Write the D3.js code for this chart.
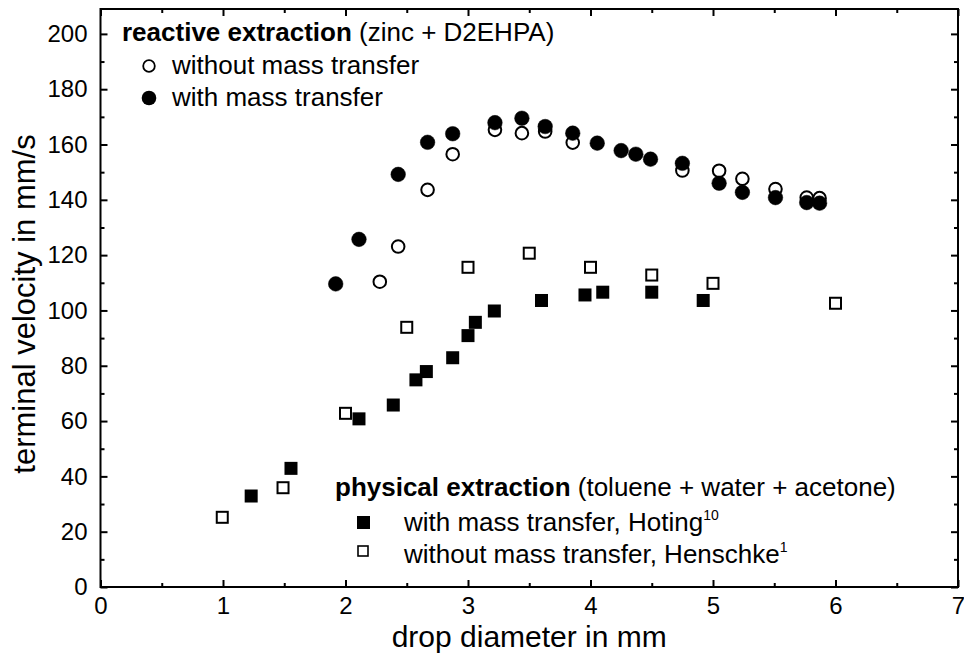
<!DOCTYPE html>
<html>
<head>
<meta charset="utf-8">
<script src="https://cdn.jsdelivr.net/npm/d3@7"></script>
<style>
  body { margin: 0; background: #fff; }
  svg { display: block; font-family: "Liberation Sans", Arial, sans-serif; }
</style>
</head>
<body>
<svg width="964" height="657"></svg>
<script>
// reactive extraction (zinc + D2EHPA)
var reactNoMT = [
  [2.28, 110.4], [2.43, 123.1], [2.67, 143.6], [2.875, 156.5], [3.22, 165.3],
  [3.44, 164.1], [3.63, 164.7], [3.855, 160.7], [4.75, 150.6], [5.05, 150.5],
  [5.24, 147.6], [5.51, 143.9], [5.765, 140.8], [5.87, 140.6]
];
var reactMT = [
  [1.92, 109.6], [2.11, 125.7], [2.43, 149.2], [2.67, 160.8], [2.875, 163.9],
  [3.22, 167.9], [3.44, 169.5], [3.63, 166.5], [3.855, 164.1], [4.055, 160.5],
  [4.25, 157.8], [4.37, 156.5], [4.49, 154.7], [4.75, 153.2], [5.05, 146.0],
  [5.24, 142.7], [5.51, 140.8], [5.765, 139.0], [5.87, 138.8]
];
// physical extraction (toluene + water + acetone)
var physMT = [
  [1.23, 32.9], [1.555, 42.9], [2.11, 60.8], [2.39, 65.8], [2.575, 74.9],
  [2.66, 77.9], [2.875, 82.9], [3.0, 90.9], [3.06, 95.7], [3.215, 99.8],
  [3.60, 103.6], [3.955, 105.6], [4.10, 106.6], [4.50, 106.6], [4.92, 103.6]
];
var physNoMT = [
  [0.994, 25.2], [1.49, 35.9], [2.0, 62.8], [2.5, 93.9], [3.0, 115.6],
  [3.5, 120.7], [4.0, 115.6], [4.5, 112.8], [5.0, 109.8], [6.0, 102.6]
];

var xMajor = [0, 1, 2, 3, 4, 5, 6, 7];
var yMajor = [0, 20, 40, 60, 80, 100, 120, 140, 160, 180, 200];

var svg = d3.select("svg");
var pLeft = 100.5, pRight = 958, pTop = 9, pBottom = 587;

var x = d3.scaleLinear().domain([0, 7]).range([pLeft, pRight]);
var y = d3.scaleLinear().domain([0, 209]).range([pBottom, pTop]);

// minor ticks
var xMinor = d3.range(0.5, 7, 1);
var yMinor = d3.range(10, 209, 20);

function styleAxis(g) {
  g.select(".domain").remove();
  g.selectAll(".tick line").attr("stroke", "#000").attr("stroke-width", 2);
  g.selectAll(".tick text").attr("fill", "#000").style("font-size", "24px")
    .style("font-family", "'Liberation Sans', Arial, sans-serif");
}

// bottom
svg.append("g").attr("transform", "translate(0," + pBottom + ")")
  .call(d3.axisBottom(x).tickValues(xMajor).tickSize(-7).tickPadding(10).tickFormat(d3.format("d")))
  .call(styleAxis);
svg.append("g").attr("transform", "translate(0," + pBottom + ")")
  .call(d3.axisBottom(x).tickValues(xMinor).tickSize(-4).tickFormat(""))
  .call(styleAxis);
// top
svg.append("g").attr("transform", "translate(0," + pTop + ")")
  .call(d3.axisTop(x).tickValues(xMajor).tickSize(-7).tickFormat(""))
  .call(styleAxis);
svg.append("g").attr("transform", "translate(0," + pTop + ")")
  .call(d3.axisTop(x).tickValues(xMinor).tickSize(-4).tickFormat(""))
  .call(styleAxis);
// left
svg.append("g").attr("transform", "translate(" + pLeft + ",0)")
  .call(d3.axisLeft(y).tickValues(yMajor).tickSize(-7).tickPadding(13).tickFormat(d3.format("d")))
  .call(styleAxis);
svg.append("g").attr("transform", "translate(" + pLeft + ",0)")
  .call(d3.axisLeft(y).tickValues(yMinor).tickSize(-4).tickFormat(""))
  .call(styleAxis);
// right
svg.append("g").attr("transform", "translate(" + pRight + ",0)")
  .call(d3.axisRight(y).tickValues(yMajor).tickSize(-7).tickFormat(""))
  .call(styleAxis);
svg.append("g").attr("transform", "translate(" + pRight + ",0)")
  .call(d3.axisRight(y).tickValues(yMinor).tickSize(-4).tickFormat(""))
  .call(styleAxis);

// frame
svg.append("rect")
  .attr("x", pLeft).attr("y", pTop)
  .attr("width", pRight - pLeft).attr("height", pBottom - pTop)
  .attr("fill", "none").attr("stroke", "#000").attr("stroke-width", 2);

// axis titles
svg.append("text")
  .attr("x", (pLeft + pRight) / 2).attr("y", 647)
  .attr("text-anchor", "middle").style("font-size", "30px")
  .text("drop diameter in mm");
svg.append("text")
  .attr("transform", "translate(35," + ((pTop + pBottom) / 2 + 6) + ") rotate(-90)")
  .attr("text-anchor", "middle").style("font-size", "31px")
  .text("terminal velocity in mm/s");

// markers
function circles(data, filled) {
  svg.append("g").selectAll("circle").data(data).enter().append("circle")
    .attr("cx", d => x(d[0])).attr("cy", d => y(d[1]))
    .attr("r", filled ? 7.3 : 6.3)
    .attr("fill", filled ? "#000" : "#fff")
    .attr("stroke", "#000").attr("stroke-width", filled ? 0.5 : 2);
}
function squares(data, filled) {
  var s = filled ? 13 : 11;
  svg.append("g").selectAll("rect").data(data).enter().append("rect")
    .attr("x", d => x(d[0]) - s / 2).attr("y", d => y(d[1]) - s / 2)
    .attr("width", s).attr("height", s)
    .attr("fill", filled ? "#000" : "#fff")
    .attr("stroke", "#000").attr("stroke-width", filled ? 0 : 2);
}
squares(physNoMT, false);
squares(physMT, true);
circles(reactNoMT, false);
circles(reactMT, true);

// legends
var fs = "26px";
var t1 = svg.append("text").attr("x", 122).attr("y", 41).style("font-size", fs);
t1.append("tspan").attr("font-weight", "bold").text("reactive extraction");
t1.append("tspan").text(" (zinc + D2EHPA)");
svg.append("circle").attr("cx", 149).attr("cy", 66).attr("r", 5.8)
  .attr("fill", "#fff").attr("stroke", "#000").attr("stroke-width", 1.8);
svg.append("text").attr("x", 172).attr("y", 74).style("font-size", fs).text("without mass transfer");
svg.append("circle").attr("cx", 149).attr("cy", 98).attr("r", 7.3).attr("fill", "#000");
svg.append("text").attr("x", 172).attr("y", 106).style("font-size", fs).text("with mass transfer");

var t2 = svg.append("text").attr("x", 335).attr("y", 496).style("font-size", fs);
t2.append("tspan").attr("font-weight", "bold").text("physical extraction");
t2.append("tspan").text(" (toluene + water + acetone)");
svg.append("rect").attr("x", 357).attr("y", 516).attr("width", 13).attr("height", 13).attr("fill", "#000");
var t3 = svg.append("text").attr("x", 404).attr("y", 531).style("font-size", fs);
t3.append("tspan").text("with mass transfer, Hoting");
t3.append("tspan").attr("dy", -11).style("font-size", "14px").text("10");
svg.append("rect").attr("x", 358).attr("y", 546).attr("width", 10).attr("height", 10)
  .attr("fill", "#fff").attr("stroke", "#000").attr("stroke-width", 1.6);
var t4 = svg.append("text").attr("x", 404).attr("y", 563).style("font-size", fs);
t4.append("tspan").text("without mass transfer, Henschke");
t4.append("tspan").attr("dy", -11).style("font-size", "14px").text("1");
</script>
</body>
</html>
